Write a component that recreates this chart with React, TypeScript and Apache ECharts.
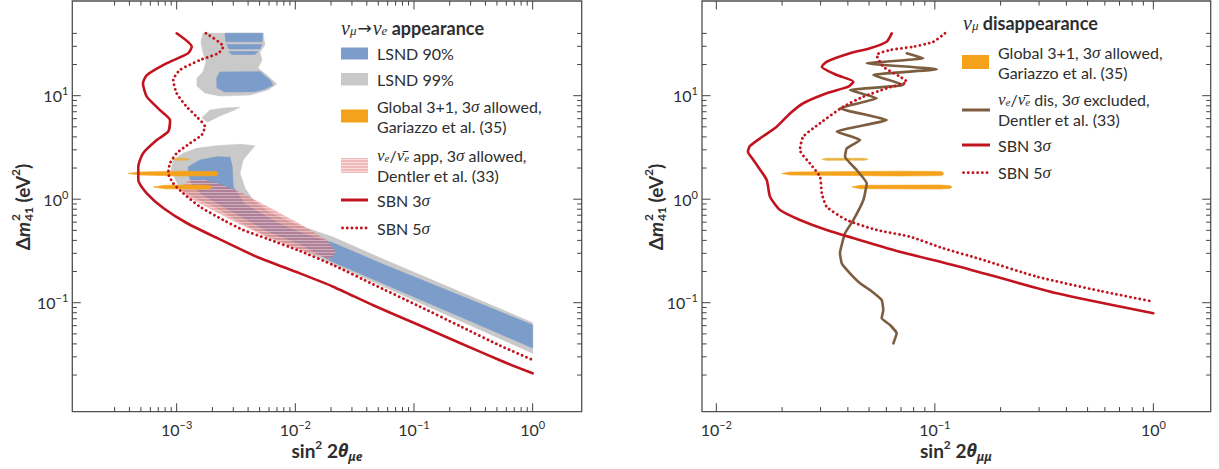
import React, { useEffect, useRef } from "react";
import * as echarts from "echarts";

type Pt = [number, number];

// ---------------- axis extents, ticks, labels ----------------
const leftXExtent: Pt = [1.32e-4, 2.59];
const rightXExtent: Pt = [8.6e-3, 1.83];
const yExtent: Pt = [0.00885, 82.2];

const leftXMajorTicks = [1e-3, 1e-2, 1e-1, 1];
const leftXMinorTicks = [
  3e-4, 4e-4, 5e-4, 6e-4, 7e-4, 8e-4, 9e-4, 2e-3, 3e-3, 4e-3, 5e-3, 6e-3, 7e-3, 8e-3, 9e-3,
  0.02, 0.03, 0.04, 0.05, 0.06, 0.07, 0.08, 0.09, 0.2, 0.3, 0.4, 0.5, 0.6, 0.7, 0.8, 0.9,
];
const rightXMajorTicks = [1e-2, 1e-1, 1];
const rightXMinorTicks = [0.02, 0.03, 0.04, 0.05, 0.06, 0.07, 0.08, 0.09, 0.2, 0.3, 0.4, 0.5, 0.6, 0.7, 0.8, 0.9];
const yMajorTicks = [0.1, 1, 10];
const yMinorTicks = [
  0.02, 0.03, 0.04, 0.05, 0.06, 0.07, 0.08, 0.09, 0.2, 0.3, 0.4, 0.5, 0.6, 0.7, 0.8, 0.9,
  2, 3, 4, 5, 6, 7, 8, 9, 20, 30, 40,
];
const leftXLabelExponents = [-3, -2, -1, 0];
const rightXLabelExponents = [-2, -1, 0];
const yLabelExponents = [-1, 0, 1];

// ---------------- left panel: nu_mu -> nu_e appearance ----------------
const lsnd99Main: Pt[] = [
  [8.95e-4, 1.915], [9.36e-4, 2.39], [1.137e-3, 2.78], [1.474e-3, 3.1], [2.173e-3, 3.29], [3.414e-3, 3.39],
  [4.566e-3, 3.29], [4.144e-3, 2.88], [3.64e-3, 2.39], [3.414e-3, 1.779], [3.762e-3, 1.283], [4.478e-3, 0.958],
  [6.07e-3, 0.75], [9.36e-3, 0.588], [0.02074, 0.431], [0.0547, 0.264], [0.1443, 0.1646], [0.3805, 0.1025],
  [1.0, 0.0641], [1.0, 0.0324], [0.3805, 0.0533], [0.1443, 0.0875], [0.0547, 0.1441], [0.02074, 0.2365],
  [0.01094, 0.33], [5.763e-3, 0.441], [3.414e-3, 0.602], [2.102e-3, 0.841], [1.426e-3, 1.027], [1.066e-3, 1.255],
];
const lsnd99TopIsland: Pt[] = [
  [1.665e-3, 40.1], [5.333e-3, 40.1], [5.544e-3, 30.9], [5.03e-3, 26.4], [5.232e-3, 22.1], [4.839e-3, 18.5],
  [5.877e-3, 15.5], [6.96e-3, 12.97], [5.877e-3, 11.35], [4.144e-3, 10.16], [2.316e-3, 9.93], [1.731e-3, 10.62],
  [1.483e-3, 12.41], [1.483e-3, 14.83], [1.665e-3, 16.94], [1.765e-3, 21.2], [1.665e-3, 26.4], [1.602e-3, 33.0],
];
const lsnd99MidIsland: Pt[] = [
  [1.624e-3, 6.09], [1.908e-3, 7.27], [2.552e-3, 7.61], [3.414e-3, 7.73], [2.923e-3, 7.11], [2.316e-3, 6.37], [1.835e-3, 5.57],
];
const lsnd90Main: Pt[] = [
  [1.252e-3, 2.06], [1.571e-3, 2.39], [2.173e-3, 2.57], [2.812e-3, 2.54], [2.94e-3, 2.06], [2.998e-3, 1.321],
  [3.762e-3, 0.899], [5.232e-3, 0.719], [7.71e-3, 0.563], [0.01205, 0.461], [0.02086, 0.3775], [0.0547, 0.2355],
  [0.1443, 0.1499], [0.3805, 0.0954], [1.0, 0.0609], [1.0, 0.0365], [0.3805, 0.0589], [0.1443, 0.095],
  [0.0547, 0.1536], [0.02086, 0.247], [0.01094, 0.368], [5.763e-3, 0.493], [3.414e-3, 0.688], [2.102e-3, 0.94],
  [1.571e-3, 1.148], [1.345e-3, 1.403], [1.26e-3, 1.713],
];
const lsnd90IslandA: Pt[] = [[2.552e-3, 40.1], [5.333e-3, 40.1], [5.232e-3, 33.2], [2.602e-3, 33.2]];
const lsnd90IslandB: Pt[] = [[2.653e-3, 31.2], [5.232e-3, 31.2], [5.03e-3, 28.3], [2.758e-3, 28.3]];
const lsnd90IslandC: Pt[] = [[2.758e-3, 26.7], [4.839e-3, 26.7], [4.566e-3, 25.0], [2.923e-3, 25.0]];
const lsnd90IslandLow: Pt[] = [
  [2.316e-3, 16.94], [5.03e-3, 17.06], [6.11e-3, 14.18], [6.48e-3, 12.69], [5.544e-3, 11.61], [4.566e-3, 10.93],
  [2.552e-3, 10.86], [2.186e-3, 11.87], [2.173e-3, 14.83],
];
const dentlerAppAllowed: Pt[] = [
  [1.031e-3, 1.283], [1.294e-3, 1.533], [1.731e-3, 1.533], [2.316e-3, 1.403], [3.414e-3, 1.174], [5.73e-3, 0.86],
  [0.01094, 0.576], [0.01835, 0.404], [0.02198, 0.309], [0.01957, 0.2644], [0.01094, 0.323], [5.73e-3, 0.431],
  [2.998e-3, 0.616], [1.789e-3, 0.841], [1.294e-3, 1.027],
];
const globalAppBarLong: Pt[] = [
  [3.91e-4, 1.771], [4.91e-4, 1.832], [1.066e-3, 1.865], [2.173e-3, 1.852], [2.228e-3, 1.771], [2.173e-3, 1.683],
  [1.066e-3, 1.676], [4.91e-4, 1.713],
];
const globalAppBarLow: Pt[] = [
  [6.35e-4, 1.312], [7.97e-4, 1.362], [1.571e-3, 1.371], [1.908e-3, 1.356], [1.983e-3, 1.312], [1.908e-3, 1.26],
  [1.571e-3, 1.249], [7.97e-4, 1.26],
];
const globalAppBarTop: Pt[] = [
  [9.13e-4, 2.43], [1e-3, 2.485], [1.198e-3, 2.485], [1.294e-3, 2.43], [1.198e-3, 2.376], [1e-3, 2.376],
];
const sbn3AppCurve: Pt[] = [
  [1.0e-3, 40.1], [1.34e-3, 29.7], [1.25e-3, 25.7], [8.2e-4, 20.5], [5.6e-4, 15.8], [5.2e-4, 13.2], [5.6e-4, 9.8],
  [7.2e-4, 7.3], [8.8e-4, 5.8], [8.5e-4, 4.5], [6.8e-4, 3.73], [5.2e-4, 2.77], [4.75e-4, 2.06], [4.75e-4, 1.53],
  [5.6e-4, 1.14], [7.71e-4, 0.822], [1.214e-3, 0.589], [2.102e-3, 0.431], [4.72e-3, 0.278], [0.01094, 0.192],
  [0.02086, 0.1428], [0.04532, 0.0944], [0.1052, 0.0622], [0.2436, 0.0408], [0.5294, 0.0278], [1.0, 0.0208],
];
const sbn5AppCurve: Pt[] = [
  [1.765e-3, 40.1], [2.47e-3, 29.75], [2.241e-3, 25.7], [1.571e-3, 22.1], [1.066e-3, 17.7], [9.36e-4, 14.2],
  [1.0e-3, 10.55], [1.214e-3, 7.83], [1.474e-3, 6.27], [1.731e-3, 5.02], [1.624e-3, 4.17], [1.294e-3, 3.47],
  [1.0e-3, 2.78], [8.78e-4, 2.22], [8.5e-4, 1.78], [9.36e-4, 1.424], [1.137e-3, 1.14], [1.571e-3, 0.846],
  [2.47e-3, 0.63], [3.64e-3, 0.504], [5.73e-3, 0.417], [0.01094, 0.316], [0.02086, 0.2313], [0.04532, 0.1506],
  [0.1052, 0.095], [0.2436, 0.0595], [0.5294, 0.0386], [1.0, 0.028],
];

// ---------------- right panel: nu_mu disappearance ----------------
const globalDisBarLong: Pt[] = [
  [0.01992, 1.771], [0.02175, 1.832], [0.0693, 1.865], [0.1075, 1.85], [0.1102, 1.771], [0.1075, 1.69],
  [0.0693, 1.676], [0.02175, 1.713],
];
const globalDisBarLow: Pt[] = [
  [0.0417, 1.312], [0.0455, 1.362], [0.1056, 1.371], [0.1174, 1.35], [0.1199, 1.312], [0.1174, 1.27],
  [0.1056, 1.255], [0.0455, 1.262],
];
const globalDisBarTop: Pt[] = [
  [0.0304, 2.43], [0.0318, 2.485], [0.0474, 2.485], [0.0496, 2.43], [0.0474, 2.376], [0.0318, 2.376],
];
const dentlerDisExcluded: Pt[] = [
  [0.0744, 25.7], [0.0886, 22.98], [0.0488, 20.56], [0.102, 17.99], [0.0523, 15.85], [0.0718, 12.69],
  [0.0409, 11.35], [0.0542, 9.44], [0.0368, 7.55], [0.0602, 5.82], [0.0356, 4.49], [0.0455, 3.73],
  [0.0395, 3.1], [0.0388, 2.57], [0.0439, 1.915], [0.0488, 1.424], [0.0471, 0.982], [0.0424, 0.63],
  [0.0388, 0.468], [0.0368, 0.3], [0.0375, 0.24], [0.0409, 0.1923], [0.0455, 0.154], [0.0505, 0.1326],
  [0.0571, 0.1062], [0.0581, 0.085], [0.0571, 0.0707], [0.0624, 0.0609], [0.0669, 0.0506], [0.0646, 0.0405],
];
const sbn3DisCurve: Pt[] = [
  [0.0635, 40.0], [0.0602, 33.2], [0.0505, 28.7], [0.0409, 25.7], [0.032, 21.3], [0.0304, 19.06], [0.0356, 15.85],
  [0.0424, 13.65], [0.0402, 12.22], [0.032, 10.55], [0.025, 8.45], [0.0218, 6.76], [0.0189, 5.02], [0.01619, 3.99],
  [0.01426, 3.27], [0.01395, 2.88], [0.01456, 2.5], [0.01552, 2.06], [0.01701, 1.533], [0.01761, 1.057],
  [0.01957, 0.786], [0.02415, 0.63], [0.032, 0.504], [0.0453, 0.404], [0.0691, 0.311], [0.1299, 0.2228],
  [0.3618, 0.1232], [1.0, 0.079],
];
const sbn5DisCurve: Pt[] = [
  [0.1113, 40.1], [0.0984, 33.2], [0.0797, 29.75], [0.0624, 27.6], [0.0542, 24.7], [0.0581, 19.06], [0.0693, 15.26],
  [0.0744, 13.65], [0.0602, 11.79], [0.0471, 9.78], [0.0381, 7.83], [0.0298, 5.41], [0.025, 4.02], [0.02415, 2.99],
  [0.0268, 2.22], [0.0298, 1.65], [0.0304, 1.14], [0.032, 0.846], [0.0395, 0.63], [0.0542, 0.504], [0.077, 0.434],
  [0.1094, 0.3354], [0.161, 0.2644], [0.2936, 0.1783], [0.573, 0.1297], [1.0, 0.1023],
];

// ---------------- styles ----------------
const TXT = "#2e2e2e";
const TICK = "#444444";
const BLUE = "#7c9cc9";
const GRAY = "#c9c9ca";
const ORANGE = "#f4a21b";
const ORANGE_LIGHT = "#e8b23e";
const PINK = "rgba(226,100,104,0.5)";
const RED = "#c2141f";
const BROWN = "#7c5d3f";
const SANS = "Lato, 'Open Sans', 'Noto Sans', sans-serif";
const SERIF = "'Liberation Serif', 'DejaVu Serif', serif";
const GREEK_SANS = "'Noto Sans', 'DejaVu Sans', sans-serif";
const DOTS = [0.1, 4.6];

const GRID_TOP = 1;
const GRID_H = 410.7;
const LEFT_GRID = { left: 72.3, width: 509.4 };
const RIGHT_GRID = { left: 702, width: 508.7 };

function powLabel(exps: number[]) {
  return (v: number) => {
    const e = Math.log10(v);
    const r = Math.round(e);
    if (Math.abs(e - r) > 1e-6 || exps.indexOf(r) < 0) return "";
    return `{b|10}{s|${r < 0 ? "\u2212" + -r : r}}`;
  };
}
const tickRich = {
  b: { fontFamily: SANS, fontSize: 16, color: TXT, lineHeight: 21 },
  s: { fontFamily: SANS, fontSize: 11, color: TXT, lineHeight: 9, verticalAlign: "top" },
};

function polygonSeries(pts: Pt[], fill: string, grid: number, z: number) {
  return {
    type: "custom",
    xAxisIndex: grid,
    yAxisIndex: grid,
    z,
    silent: true,
    clip: true,
    encode: { x: 0, y: 1 },
    data: [pts[0]],
    renderItem: (_p: any, api: any) => ({
      type: "polygon",
      shape: { points: pts.map((p) => api.coord(p)) },
      style: { fill, stroke: fill, lineWidth: 0.6 },
    }),
  };
}

function hatchSeries(pts: Pt[], grid: number, z: number) {
  return {
    type: "custom",
    xAxisIndex: grid,
    yAxisIndex: grid,
    z,
    silent: true,
    clip: true,
    encode: { x: 0, y: 1 },
    data: [pts[0]],
    renderItem: (_p: any, api: any) => {
      const points = pts.map((p) => api.coord(p));
      let minX = Infinity, maxX = -Infinity, minY = Infinity, maxY = -Infinity;
      points.forEach(([x, y]: number[]) => {
        minX = Math.min(minX, x); maxX = Math.max(maxX, x);
        minY = Math.min(minY, y); maxY = Math.max(maxY, y);
      });
      const stripes: any[] = [];
      for (let y = Math.floor(minY) + 1.5; y <= maxY; y += 3) {
        stripes.push({
          type: "line",
          shape: { x1: minX, y1: y, x2: maxX, y2: y },
          style: { stroke: "rgba(255,255,255,0.38)", lineWidth: 1 },
        });
      }
      return {
        type: "group",
        children: [
          { type: "polygon", shape: { points }, style: { fill: PINK } },
          { type: "group", children: stripes, clipPath: { type: "polygon", shape: { points } } },
        ],
      };
    },
  };
}

function lineSeries(data: Pt[], grid: number, color: string, dotted: boolean, z: number, smooth = 0.2) {
  return {
    type: "line",
    xAxisIndex: grid,
    yAxisIndex: grid,
    data,
    z,
    silent: true,
    symbol: "none",
    showSymbol: false,
    smooth,
    clip: true,
    lineStyle: dotted
      ? { color, width: 2.8, type: DOTS, cap: "round" }
      : { color, width: 2.6, type: "solid", cap: "round", join: "round" },
  };
}

function xTickSeries(grid: number, majors: number[], minors: number[]) {
  return {
    type: "custom",
    xAxisIndex: grid,
    yAxisIndex: grid,
    z: 30,
    silent: true,
    clip: false,
    encode: { x: 0, y: 1 },
    data: [...majors.map((v) => [v, 1, 1]), ...minors.map((v) => [v, 1, 0])],
    renderItem: (params: any, api: any) => {
      const cs = params.coordSys;
      const x = api.coord([api.value(0), 1])[0];
      const len = api.value(2) ? 8.5 : 4.6;
      const b = cs.y + cs.height;
      const t = cs.y;
      return {
        type: "group",
        children: [
          { type: "line", shape: { x1: x, y1: b, x2: x, y2: b - len }, style: { stroke: TICK, lineWidth: 1 } },
          { type: "line", shape: { x1: x, y1: t, x2: x, y2: t + len }, style: { stroke: TICK, lineWidth: 1 } },
        ],
      };
    },
  };
}

function yTickSeries(grid: number, xAt: number, majors: number[], minors: number[]) {
  return {
    type: "custom",
    xAxisIndex: grid,
    yAxisIndex: grid,
    z: 30,
    silent: true,
    clip: false,
    encode: { x: 0, y: 1 },
    data: [...majors.map((v) => [xAt, v, 1]), ...minors.map((v) => [xAt, v, 0])],
    renderItem: (params: any, api: any) => {
      const cs = params.coordSys;
      const y = api.coord([xAt, api.value(1)])[1];
      const len = api.value(2) ? 8.5 : 4.6;
      const l = cs.x;
      const r = cs.x + cs.width;
      return {
        type: "group",
        children: [
          { type: "line", shape: { x1: l, y1: y, x2: l + len, y2: y }, style: { stroke: TICK, lineWidth: 1 } },
          { type: "line", shape: { x1: r, y1: y, x2: r - len, y2: y }, style: { stroke: TICK, lineWidth: 1 } },
        ],
      };
    },
  };
}

// ---------------- legend / titles (graphic) ----------------
const legendRich: any = {
  r: { fontFamily: SANS, fontSize: 16, fill: TXT, color: TXT, lineHeight: 16 },
  g: { fontFamily: SERIF, fontStyle: "italic", fontSize: 17, fill: TXT, color: TXT, lineHeight: 16 },
  gs: { fontFamily: SERIF, fontStyle: "italic", fontSize: 11, fill: TXT, color: TXT, lineHeight: 7, verticalAlign: "bottom" },
  G: { fontFamily: SERIF, fontStyle: "italic", fontSize: 20, fill: TXT, color: TXT, lineHeight: 18 },
  Gs: { fontFamily: SERIF, fontStyle: "italic", fontSize: 13, fill: TXT, color: TXT, lineHeight: 7, verticalAlign: "bottom" },
  h: { fontFamily: SANS, fontWeight: "bold", fontSize: 18, fill: TXT, color: TXT, lineHeight: 18 },
  ar: { fontFamily: "'DejaVu Sans', sans-serif", fontSize: 17, fill: TXT, color: TXT, lineHeight: 18, padding: [0, 1, 0, 1] },
};

function ltext(x: number, y: number, text: string) {
  return { type: "text", x, y, z: 50, silent: true, style: { text, rich: legendRich, align: "left", verticalAlign: "middle" } };
}
function lrect(x: number, y: number, w: number, h: number, fill: string) {
  return { type: "rect", z: 50, silent: true, shape: { x, y, width: w, height: h }, style: { fill } };
}
function lline(x1: number, x2: number, y: number, color: string, dotted: boolean) {
  return {
    type: "line",
    z: 50,
    silent: true,
    shape: { x1, y1: y, x2, y2: y },
    style: dotted
      ? { stroke: color, lineWidth: 2.8, lineDash: DOTS, lineCap: "round" }
      : { stroke: color, lineWidth: 3 },
  };
}
function lhatch(x: number, y: number, w: number, h: number) {
  const children: any[] = [{ type: "rect", shape: { x, y, width: w, height: h }, style: { fill: "rgba(232,130,130,0.55)" } }];
  for (let yy = y + 1.5; yy < y + h; yy += 3) {
    children.push({ type: "line", shape: { x1: x, y1: yy, x2: x + w, y2: yy }, style: { stroke: "rgba(255,255,255,0.5)", lineWidth: 1 } });
  }
  return { type: "group", z: 50, silent: true, children };
}

const xTitleRich: any = {
  b: { fontFamily: SANS, fontWeight: "bold", fontSize: 19, fill: TXT, lineHeight: 24 },
  bs: { fontFamily: SANS, fontWeight: "bold", fontSize: 12, fill: TXT, lineHeight: 11, verticalAlign: "top" },
  t: { fontFamily: GREEK_SANS, fontWeight: "bold", fontStyle: "italic", fontSize: 18, fill: TXT, lineHeight: 24 },
  ts: { fontFamily: GREEK_SANS, fontWeight: "bold", fontStyle: "italic", fontSize: 12, fill: TXT, lineHeight: 9, verticalAlign: "bottom" },
};

function measure(text: string, font: string) {
  const c = document.createElement("canvas").getContext("2d");
  if (!c) return text.length * 9;
  c.font = font;
  return c.measureText(text).width;
}

function yTitle(cx: number, cy: number) {
  const bigF = `bold 19px ${SANS}`;
  const itF = `italic bold 19px ${SANS}`;
  const smF = `bold 12px ${SANS}`;
  const wD = measure("\u0394", bigF);
  const wm = measure("m", itF);
  const wS = measure("41", smF);
  const wP = measure(" (eV", bigF);
  const w2 = measure("2", smF);
  const wC = measure(")", bigF);
  const total = wD + wm + 1 + wS + wP + w2 + wC;
  let x = -total / 2;
  const mk = (t: string, xx: number, yy: number, size: number, italic = false) => ({
    type: "text",
    x: xx,
    y: yy,
    style: {
      text: t,
      fontFamily: SANS,
      fontWeight: "bold",
      fontStyle: italic ? "italic" : "normal",
      fontSize: size,
      fill: TXT,
      align: "left",
      verticalAlign: "middle",
    },
  });
  const children: any[] = [];
  children.push(mk("\u0394", x, 0, 19));
  x += wD;
  children.push(mk("m", x, 0, 19, true));
  x += wm + 1;
  children.push(mk("2", x, -7, 12));
  children.push(mk("41", x, 6, 12));
  x += wS;
  children.push(mk(" (eV", x, 0, 19));
  x += wP;
  children.push(mk("2", x, -7, 12));
  x += w2;
  children.push(mk(")", x, 0, 19));
  return { type: "group", x: cx, y: cy, rotation: Math.PI / 2, z: 50, silent: true, children };
}

function buildOption() {
  const axisCommon = {
    type: "log",
    logBase: 10,
    axisLine: { show: false },
    axisTick: { show: false },
    minorTick: { show: false },
    splitLine: { show: false },
  };
  const gridCommon = {
    top: GRID_TOP,
    height: GRID_H,
    show: true,
    borderColor: "#505050",
    borderWidth: 1.3,
    backgroundColor: "transparent",
    containLabel: false,
    outerBoundsMode: "none",
  };
  const L0 = 341, LT = 377;
  const R0 = 962, RT = 998;
  return {
    animation: false,
    backgroundColor: "#ffffff",
    grid: [
      { ...gridCommon, left: LEFT_GRID.left, width: LEFT_GRID.width },
      { ...gridCommon, left: RIGHT_GRID.left, width: RIGHT_GRID.width },
    ],
    xAxis: [
      {
        ...axisCommon, gridIndex: 0, min: leftXExtent[0], max: leftXExtent[1],
        axisLabel: { formatter: powLabel(leftXLabelExponents), margin: 7, rich: tickRich },
      },
      {
        ...axisCommon, gridIndex: 1, min: rightXExtent[0], max: rightXExtent[1],
        axisLabel: { formatter: powLabel(rightXLabelExponents), margin: 7, rich: tickRich },
      },
    ],
    yAxis: [
      {
        ...axisCommon, gridIndex: 0, min: yExtent[0], max: yExtent[1],
        axisLabel: { formatter: powLabel(yLabelExponents), margin: 4, rich: tickRich },
      },
      {
        ...axisCommon, gridIndex: 1, min: yExtent[0], max: yExtent[1],
        axisLabel: { formatter: powLabel(yLabelExponents), margin: 4, rich: tickRich },
      },
    ],
    series: [
      // left panel
      polygonSeries(lsnd99Main, GRAY, 0, 1),
      polygonSeries(lsnd99TopIsland, GRAY, 0, 1),
      polygonSeries(lsnd99MidIsland, GRAY, 0, 1),
      polygonSeries(lsnd90Main, BLUE, 0, 2),
      polygonSeries(lsnd90IslandA, BLUE, 0, 2),
      polygonSeries(lsnd90IslandB, BLUE, 0, 2),
      polygonSeries(lsnd90IslandC, BLUE, 0, 2),
      polygonSeries(lsnd90IslandLow, BLUE, 0, 2),
      hatchSeries(dentlerAppAllowed, 0, 3),
      polygonSeries(globalAppBarLong, ORANGE, 0, 4),
      polygonSeries(globalAppBarLow, ORANGE, 0, 4),
      polygonSeries(globalAppBarTop, ORANGE_LIGHT, 0, 4),
      lineSeries(sbn3AppCurve, 0, RED, false, 6),
      lineSeries(sbn5AppCurve, 0, RED, true, 6),
      xTickSeries(0, leftXMajorTicks, leftXMinorTicks),
      yTickSeries(0, 1e-2, yMajorTicks, yMinorTicks),
      // right panel
      polygonSeries(globalDisBarLong, ORANGE, 1, 4),
      polygonSeries(globalDisBarLow, ORANGE, 1, 4),
      polygonSeries(globalDisBarTop, ORANGE_LIGHT, 1, 4),
      lineSeries(dentlerDisExcluded, 1, BROWN, false, 5, 0.12),
      lineSeries(sbn3DisCurve, 1, RED, false, 6),
      lineSeries(sbn5DisCurve, 1, RED, true, 6),
      xTickSeries(1, rightXMajorTicks, rightXMinorTicks),
      yTickSeries(1, 0.1, yMajorTicks, yMinorTicks),
    ],
    graphic: [
      // left legend
      ltext(L0, 28, "{G|\u03bd}{Gs|\u03bc}{ar|\u2192}{G|\u03bd}{Gs|e}{h| appearance}"),
      lrect(L0, 47.5, 27, 12, BLUE),
      ltext(LT, 53, "{r|LSND 90%}"),
      lrect(L0, 73, 27, 12.5, GRAY),
      ltext(LT, 79, "{r|LSND 99%}"),
      lrect(L0, 109.5, 27, 13, ORANGE),
      ltext(LT, 106.5, "{r|Global 3+1, 3}{g|\u03c3}{r| allowed,}"),
      ltext(LT, 126.5, "{r|Gariazzo et al. (35)}"),
      lhatch(L0, 158, 27, 15),
      ltext(LT, 155.5, "{g|\u03bd}{gs|e}{r|/}{g|\u03bd\u0304}{gs|e}{r| app, 3}{g|\u03c3}{r| allowed,}"),
      ltext(LT, 175.5, "{r|Dentler et al. (33)}"),
      lline(L0, L0 + 27, 200, RED, false),
      ltext(LT, 200, "{r|SBN 3}{g|\u03c3}"),
      lline(L0 + 1.5, L0 + 27, 228, RED, true),
      ltext(LT, 228, "{r|SBN 5}{g|\u03c3}"),
      // right legend
      ltext(R0 + 1, 23, "{G|\u03bd}{Gs|\u03bc}{h| disappearance}"),
      lrect(R0, 55, 27, 14, ORANGE),
      ltext(RT, 52.5, "{r|Global 3+1, 3}{g|\u03c3}{r| allowed,}"),
      ltext(RT, 72.5, "{r|Gariazzo et al. (35)}"),
      lline(R0, R0 + 28, 110, BROWN, false),
      ltext(RT, 99, "{g|\u03bd}{gs|e}{r|/}{g|\u03bd\u0304}{gs|e}{r| dis, 3}{g|\u03c3}{r| excluded,}"),
      ltext(RT, 119, "{r|Dentler et al. (33)}"),
      lline(R0, R0 + 28, 145, RED, false),
      ltext(RT, 145, "{r|SBN 3}{g|\u03c3}"),
      lline(R0 + 1.5, R0 + 28, 172.7, RED, true),
      ltext(RT, 172.7, "{r|SBN 5}{g|\u03c3}"),
      // axis titles
      {
        type: "text", x: 327, y: 450, z: 50, silent: true,
        style: { text: "{b|sin}{bs|2}{b| 2}{t|\u03b8}{ts|\u03bce}", rich: xTitleRich, align: "center", verticalAlign: "middle" },
      },
      {
        type: "text", x: 956, y: 450, z: 50, silent: true,
        style: { text: "{b|sin}{bs|2}{b| 2}{t|\u03b8}{ts|\u03bc\u03bc}", rich: xTitleRich, align: "center", verticalAlign: "middle" },
      },
      yTitle(22, 207),
      yTitle(655, 207),
    ],
  };
}

export default function App() {
  const ref = useRef<HTMLDivElement>(null);
  useEffect(() => {
    const el = ref.current;
    if (!el) return;
    const chart = echarts.init(el, undefined, { renderer: "svg" });
    chart.setOption(buildOption() as any);
    return () => chart.dispose();
  }, []);
  return (
    <div
      ref={ref}
      style={{ position: "fixed", left: 0, top: 0, width: 1219, height: 469, background: "#ffffff" }}
    />
  );
}
